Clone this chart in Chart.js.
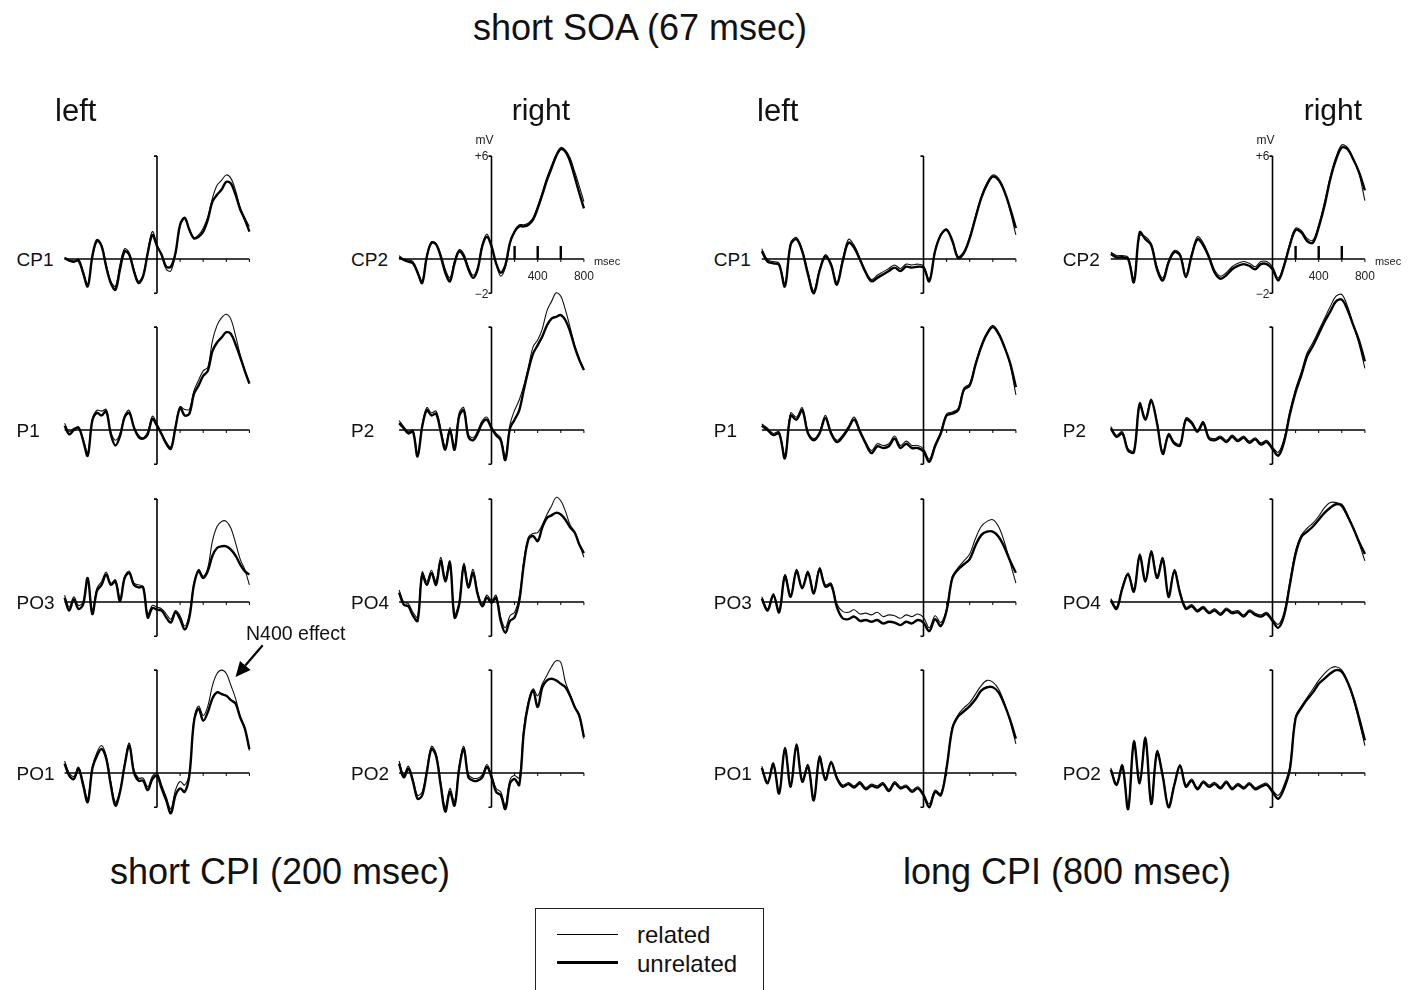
<!DOCTYPE html>
<html>
<head>
<meta charset="utf-8">
<title>short SOA (67 msec)</title>
<script src="https://cdn.jsdelivr.net/npm/chart.js@4.4.1/dist/chart.umd.min.js"></script>
<style>
  body { margin: 0; background: #fff; }
  #fig { position: relative; width: 1417px; height: 990px; overflow: hidden; background: #fff;
         font-family: "Liberation Sans", Arial, sans-serif; color: #111; }
  #fig canvas { position: absolute; }
  .txt { position: absolute; white-space: nowrap; line-height: 1; }
  #legend { position: absolute; left: 535px; top: 908px; width: 227px; height: 110px; border: 1.5px solid #222; }
  .lgline { position: absolute; left: 21px; width: 61px; background: #000; }
</style>
</head>
<body>
<div id="fig">
  <div id="legend">
    <div class="lgline" style="top:25px; height:1.3px"></div>
    <div class="lgline" style="top:52px; height:3px"></div>
  </div>
</div>
<script>
// time base (msec) for short CPI and long CPI epochs
const tShort = [-800,-760,-720,-680,-640,-600,-560,-520,-480,-440,-400,-360,-320,-280,-240,-200,-160,-120,-80,-40,
  0,40,80,120,160,200,240,280,320,360,400,440,480,520,560,600,640,680,720,760,800];
const tLong = [-1400,-1350,-1300,-1250,-1200,-1150,-1100,-1050,-1000,-950,-900,-850,-800,-750,-700,-650,-600,-550,-500,-450,
  -400,-350,-300,-250,-200,-150,-100,-50,0,50,100,150,200,250,300,350,400,450,500,550,600,650,700,750,800];

// axis ticks / labels
const timeTicks = [200, 400, 600, 800];
const scaleTicks = [200, 400, 600];
const timeTickLabels = [[400, '400'], [800, '800']];
const voltTickLabels = [[6, '+6'], [-2, '\u22122']];

// short CPI (200 msec), microvolts
const shortCP1Rel   = [0.1,-0.05,-0.2,0,-0.7,-1.5,0.1,1.0,0.8,-0.3,-1.3,-1.6,-0.3,0.6,0.35,-0.6,-1.3,-0.9,0.45,1.6,0.85,0.2,-0.6,-0.7,0.3,1.9,2.35,1.75,1.25,1.4,1.8,2.45,3.55,4.3,4.6,4.9,4.7,4.0,3.0,2.4,1.9];
const shortCP1Unrel = [0.05,-0.1,-0.15,-0.1,-0.8,-1.6,0.15,1.1,0.75,-0.45,-1.4,-1.8,-0.6,0.45,0.25,-0.7,-1.4,-1.0,0.35,1.4,0.75,0.25,-0.45,-0.45,0.35,2.0,2.4,1.7,1.2,1.3,1.6,2.3,3.35,3.75,4.05,4.5,4.4,3.75,2.9,2.3,1.6];
const shortP1Rel    = [0.4,-0.1,0.1,0.1,-0.5,-1.35,0.6,1.15,1.1,1.2,-0.1,-0.6,-0.2,0.85,1.15,0.2,-0.3,-0.45,-0.1,0.8,0.35,-0.2,-0.7,-1.0,0.25,1.35,1.2,1.2,2.3,2.9,3.45,3.65,5.2,6.1,6.55,6.75,6.45,5.5,4.4,3.5,2.75];
const shortP1Unrel  = [0.25,-0.25,0,0.15,-0.6,-1.5,0.55,1.0,0.85,1.1,-0.25,-0.9,-0.35,0.75,1.0,0.15,-0.4,-0.5,-0.25,0.65,0.25,-0.25,-0.8,-1.1,0.15,1.3,0.85,0.95,2.1,2.6,3.15,3.45,4.6,5.1,5.4,5.7,5.6,5.0,4.25,3.45,2.7];
const shortPO3Rel   = [0.4,-0.3,0.3,-0.2,0,1.3,-0.5,0.8,1.2,1.75,1.1,1.3,0.2,1.5,1.8,1.1,1.0,0.9,-0.7,-0.2,-0.3,-0.4,-0.7,-1.0,-0.5,-0.8,-1.4,-0.7,1.1,1.9,1.5,2.0,3.55,4.4,4.7,4.7,4.3,3.45,2.5,1.9,1.0];
const shortPO3Unrel = [0.25,-0.5,0.15,-0.4,-0.15,1.4,-0.7,0.65,1.0,1.6,1.0,1.2,0.05,1.4,1.7,1.0,0.85,0.85,-0.9,-0.35,-0.45,-0.5,-0.9,-1.2,-0.6,-1.0,-1.6,-0.9,1.0,1.8,1.4,1.8,2.7,3.15,3.25,3.25,3.05,2.7,2.2,1.8,1.6];
const shortPO1Rel   = [0.7,0,-0.2,0.35,-0.5,-1.5,0.35,1.2,1.6,1.0,-0.5,-1.7,-1.0,0.55,1.75,0.2,-0.3,-0.3,-0.8,-0.2,0,-0.7,-1.4,-2.1,-1.0,-0.5,-0.7,0,3.1,3.9,3.35,3.9,5.1,5.8,6.0,5.8,5.1,4.35,3.3,2.6,1.3];
const shortPO1Unrel = [0.55,-0.15,-0.35,0.25,-0.7,-1.7,0.25,1.0,1.4,0.85,-0.7,-1.9,-1.1,0.45,1.6,0.05,-0.45,-0.45,-1.0,-0.35,-0.15,-0.9,-1.6,-2.35,-1.3,-0.9,-1.1,-0.15,3.0,3.75,3.05,3.55,4.35,4.7,4.6,4.5,4.25,4.05,3.25,2.6,1.4];
const shortCP2Rel   = [0.2,0,-0.05,-0.15,-0.7,-1.3,0.2,1.0,0.9,0.3,-0.6,-1.1,-0.1,0.55,0.3,-0.45,-0.95,-0.5,0.85,1.45,0.8,-0.3,-1.0,-0.5,0.9,1.65,2.0,2.0,2.1,2.4,3.1,3.9,4.75,5.45,6.1,6.5,6.35,5.9,5.1,4.25,3.35];
const shortCP2Unrel = [0.1,-0.05,-0.15,-0.25,-0.8,-1.4,0.15,0.95,0.85,0.15,-0.8,-1.3,-0.25,0.45,0.15,-0.6,-1.1,-0.6,0.75,1.3,0.75,-0.25,-0.8,-0.35,0.95,1.6,1.9,1.9,2.0,2.3,2.95,3.75,4.6,5.3,6.0,6.4,6.25,5.7,4.8,3.85,2.95];
const shortP2Rel    = [0.55,0.2,-0.1,0,-1.4,0.3,1.3,1.0,1.1,0.1,-0.95,0.15,-0.95,1.0,1.3,-0.25,-0.45,-0.05,0.55,0.75,0.2,-0.2,-0.45,-1.55,0.3,1.15,1.75,2.6,3.7,4.85,5.25,5.9,6.95,7.5,8.0,7.8,7.0,6.0,4.95,4.15,3.5];
const shortP2Unrel  = [0.4,0.1,-0.2,-0.1,-1.55,0.2,1.15,0.85,0.95,-0.1,-1.15,0,-1.15,0.8,1.15,-0.4,-0.6,-0.2,0.4,0.6,0.1,-0.3,-0.6,-1.75,0.1,0.6,1.15,2.35,3.5,4.45,4.95,5.45,6.1,6.5,6.6,6.7,6.4,5.75,4.85,4.1,3.5];
const shortPO4Rel   = [0.7,0,-0.1,-0.6,-0.9,1.75,1.2,1.85,1.2,2.6,1.4,2.4,-0.7,0,2.25,1.0,1.9,0.6,-0.1,0.4,0.1,0.4,-0.9,-1.5,-0.8,-0.6,0.3,2.4,3.8,4.0,4.05,4.5,5.1,5.6,6.1,5.9,5.3,4.5,4.1,3.4,2.6];
const shortPO4Unrel = [0.55,-0.15,-0.25,-0.8,-1.1,1.6,1.0,1.7,1.0,2.4,1.2,2.3,-0.9,-0.15,2.1,0.85,1.7,0.45,-0.25,0.25,-0.05,0.25,-1.1,-1.8,-1.1,-0.9,0.05,2.2,3.65,3.85,3.55,4.35,4.9,5.05,5.2,5.1,4.8,4.35,4.05,3.35,2.85];
const shortPO2Rel   = [0.7,-0.1,0.4,-0.35,-1.3,-1.1,0.2,1.55,1.15,-0.5,-2.0,-0.9,-1.7,0.4,1.55,-0.1,-0.3,-0.3,-0.1,0.5,-0.1,-0.9,-1.1,-1.9,-0.4,-0.15,-0.3,2.6,4.2,4.9,4.5,5.2,5.7,6.2,6.55,6.45,5.3,4.6,3.9,3.3,2.0];
const shortPO2Unrel = [0.55,-0.25,0.25,-0.5,-1.5,-1.3,0.05,1.4,1.0,-0.7,-2.25,-1.1,-1.9,0.25,1.4,-0.25,-0.45,-0.45,-0.25,0.35,-0.25,-1.1,-1.3,-2.1,-0.6,-0.35,-0.7,2.4,4.05,4.8,3.85,5.0,5.4,5.5,5.4,5.2,5.0,4.5,3.85,3.35,2.1];

// long CPI (800 msec), microvolts
const longCP1Rel   = [0.6,-0.05,-0.15,-0.25,-1.5,0.95,1.25,0.55,-0.75,-1.85,-0.6,0.25,-0.25,-1.35,0,1.15,0.8,0.05,-0.7,-1.2,-0.95,-0.75,-0.55,-0.35,-0.55,-0.3,-0.35,-0.3,-0.4,-1.2,0.5,1.45,1.75,1.1,0.15,0.45,1.3,2.5,3.65,4.45,4.9,4.7,4.0,2.8,1.4];
const longCP1Unrel = [0.45,-0.15,-0.25,-0.35,-1.6,0.85,1.15,0.45,-0.9,-2.0,-0.7,0.15,-0.35,-1.5,-0.15,0.95,0.65,-0.05,-0.8,-1.3,-1.1,-0.9,-0.7,-0.5,-0.7,-0.45,-0.5,-0.45,-0.5,-1.3,0.45,1.4,1.7,1.05,0.05,0.35,1.2,2.4,3.55,4.35,4.8,4.6,3.95,2.95,1.8];
const longP1Rel    = [0.35,0.1,-0.2,-0.1,-1.5,1.0,0.75,1.3,-0.1,-0.5,-0.1,0.85,-0.1,-0.6,-0.3,0.2,0.75,0,-0.7,-1.2,-0.8,-0.9,-0.8,-0.35,-0.9,-0.65,-0.9,-0.9,-1.1,-1.7,-0.85,-0.1,0.95,1.05,1.25,2.45,2.7,3.9,4.95,5.7,6.1,5.7,4.9,3.8,2.05];
const longP1Unrel  = [0.25,0,-0.3,-0.2,-1.65,0.85,0.6,1.15,-0.2,-0.6,-0.2,0.7,-0.2,-0.7,-0.4,0.1,0.6,-0.1,-0.8,-1.35,-0.95,-1.05,-0.95,-0.5,-1.05,-0.8,-1.05,-1.05,-1.25,-1.85,-0.95,-0.2,0.85,0.95,1.15,2.35,2.6,3.8,4.85,5.6,6.0,5.6,4.85,3.9,2.5];
const longPO3Rel   = [0.3,-0.4,0.5,-0.5,1.6,0.4,1.9,0.9,1.8,0.6,2.0,1.0,1.1,-0.1,-0.55,-0.6,-0.45,-0.7,-0.65,-0.75,-0.6,-0.85,-0.75,-0.8,-0.95,-0.75,-0.85,-0.7,-0.9,-1.5,-0.8,-1.2,-0.4,1.5,2.0,2.4,2.8,3.7,4.4,4.7,4.8,4.4,3.5,2.3,1.1];
const longPO3Unrel = [0.2,-0.5,0.4,-0.6,1.5,0.3,1.8,0.8,1.7,0.5,1.9,0.9,1.0,-0.3,-0.95,-1.0,-0.85,-1.1,-1.05,-1.15,-1.05,-1.25,-1.15,-1.2,-1.35,-1.15,-1.25,-1.05,-1.2,-1.7,-1.0,-1.4,-0.5,1.4,1.9,2.2,2.5,3.3,3.9,4.1,4.1,3.8,3.2,2.4,1.7];
const longPO1Rel   = [0.4,-0.5,0.6,-1.1,1.5,-0.7,1.7,-0.4,0.5,-1.5,1.0,-0.3,0.7,-0.2,-0.7,-0.55,-0.75,-0.5,-0.85,-0.65,-0.75,-0.55,-0.95,-0.5,-0.8,-0.7,-1.0,-0.8,-1.2,-1.8,-1.0,-1.2,0.4,2.7,3.4,3.8,4.1,4.6,5.1,5.4,5.3,4.9,4.1,3.0,1.7];
const longPO1Unrel = [0.3,-0.6,0.5,-1.2,1.4,-0.8,1.6,-0.5,0.4,-1.6,0.9,-0.4,0.6,-0.3,-0.8,-0.65,-0.85,-0.6,-0.95,-0.75,-0.85,-0.65,-1.05,-0.6,-0.9,-0.8,-1.1,-0.9,-1.3,-2.0,-1.1,-1.3,0.3,2.6,3.3,3.6,3.9,4.3,4.8,5.0,5.0,4.7,4.0,3.1,2.0];
const longCP2Rel   = [0.4,0.2,0.2,0.1,-1.2,1.35,1.3,0.9,-0.45,-1.1,-0.1,0.5,0.3,-0.9,0.3,1.3,0.95,0.2,-0.65,-1.0,-0.8,-0.45,-0.25,-0.15,-0.25,-0.45,-0.15,-0.15,-0.45,-1.1,-0.3,0.9,1.8,1.65,1.2,1.1,2.0,3.3,4.8,5.95,6.65,6.5,5.85,4.95,3.4];
const longCP2Unrel = [0.3,0.1,0.1,0,-1.35,1.55,1.15,0.8,-0.6,-1.25,-0.2,0.4,0.2,-1.05,0.2,1.15,0.8,0.1,-0.8,-1.15,-0.95,-0.6,-0.4,-0.3,-0.4,-0.6,-0.3,-0.3,-0.6,-1.25,-0.4,0.8,1.7,1.55,1.05,0.95,1.85,3.1,4.65,5.8,6.5,6.4,5.8,5.05,4.0];
const longP2Rel    = [0.2,-0.3,-0.1,-1.1,-1.2,1.6,0.7,1.8,0.5,-1.3,-0.2,-0.7,-0.8,0.7,0.5,0,0.5,-0.4,-0.5,-0.35,-0.6,-0.3,-0.55,-0.35,-0.65,-0.45,-0.75,-0.6,-1.0,-1.3,-0.5,1.1,2.4,3.4,4.5,5.1,5.8,6.5,7.2,7.8,7.9,7.2,6.1,5.0,3.6];
const longP2Unrel  = [0.1,-0.4,-0.2,-1.2,-1.3,1.5,0.6,1.7,0.4,-1.4,-0.3,-0.8,-0.9,0.6,0.4,-0.1,0.4,-0.5,-0.6,-0.45,-0.7,-0.4,-0.65,-0.45,-0.75,-0.55,-0.85,-0.7,-1.1,-1.5,-0.7,0.9,2.2,3.2,4.3,4.9,5.6,6.3,6.9,7.5,7.6,7.0,6.1,5.2,4.0];
const longPO4Rel   = [0.2,-0.3,0.9,1.7,0.7,2.8,1.3,3.0,1.5,2.6,0.4,1.9,0.6,-0.3,-0.15,-0.45,-0.25,-0.55,-0.4,-0.65,-0.35,-0.55,-0.5,-0.75,-0.45,-0.65,-0.75,-0.6,-1.0,-1.3,-0.6,1.2,3.0,3.9,4.3,4.6,5.0,5.5,5.8,5.8,5.7,5.1,4.3,3.4,2.4];
const longPO4Unrel = [0.1,-0.4,0.8,1.6,0.6,2.7,1.2,2.9,1.4,2.5,0.3,1.8,0.5,-0.4,-0.25,-0.55,-0.35,-0.65,-0.5,-0.75,-0.45,-0.65,-0.6,-0.85,-0.55,-0.75,-0.85,-0.7,-1.1,-1.5,-0.8,1.0,2.8,3.8,4.1,4.4,4.8,5.2,5.5,5.7,5.6,5.0,4.3,3.5,2.8];
const longPO2Rel   = [0.3,-0.6,0.5,-2.0,1.9,-0.5,2.1,-1.7,1.3,-0.1,-1.9,-0.6,0.5,-0.7,-0.35,-0.85,-0.45,-0.7,-0.55,-0.8,-0.45,-0.85,-0.6,-0.8,-0.55,-0.85,-0.7,-0.6,-1.0,-1.3,-0.7,0.4,3.3,3.9,4.4,4.9,5.4,5.8,6.1,6.2,6.0,5.3,4.3,3.0,1.6];
const longPO2Unrel = [0.2,-0.7,0.4,-2.1,1.8,-0.6,2.0,-1.8,1.2,-0.2,-2.0,-0.7,0.4,-0.8,-0.45,-0.95,-0.55,-0.8,-0.65,-0.9,-0.55,-0.95,-0.7,-0.9,-0.65,-0.95,-0.8,-0.7,-1.1,-1.5,-0.9,0.2,3.2,3.8,4.3,4.7,5.2,5.5,5.8,6.0,5.9,5.3,4.4,3.2,1.9];

// panel grid: col = 0..3 (short left, short right, long left, long right), row = 0..3
const panels = [
  { col: 0, row: 0, name: 'CP1', t: tShort, rel: shortCP1Rel, unrel: shortCP1Unrel },
  { col: 0, row: 1, name: 'P1',  t: tShort, rel: shortP1Rel,  unrel: shortP1Unrel },
  { col: 0, row: 2, name: 'PO3', t: tShort, rel: shortPO3Rel, unrel: shortPO3Unrel },
  { col: 0, row: 3, name: 'PO1', t: tShort, rel: shortPO1Rel, unrel: shortPO1Unrel, arrow: true },
  { col: 1, row: 0, name: 'CP2', t: tShort, rel: shortCP2Rel, unrel: shortCP2Unrel, scale: true },
  { col: 1, row: 1, name: 'P2',  t: tShort, rel: shortP2Rel,  unrel: shortP2Unrel },
  { col: 1, row: 2, name: 'PO4', t: tShort, rel: shortPO4Rel, unrel: shortPO4Unrel },
  { col: 1, row: 3, name: 'PO2', t: tShort, rel: shortPO2Rel, unrel: shortPO2Unrel },
  { col: 2, row: 0, name: 'CP1', t: tLong, rel: longCP1Rel, unrel: longCP1Unrel },
  { col: 2, row: 1, name: 'P1',  t: tLong, rel: longP1Rel,  unrel: longP1Unrel },
  { col: 2, row: 2, name: 'PO3', t: tLong, rel: longPO3Rel, unrel: longPO3Unrel },
  { col: 2, row: 3, name: 'PO1', t: tLong, rel: longPO1Rel, unrel: longPO1Unrel },
  { col: 3, row: 0, name: 'CP2', t: tLong, rel: longCP2Rel, unrel: longCP2Unrel, scale: true },
  { col: 3, row: 1, name: 'P2',  t: tLong, rel: longP2Rel,  unrel: longP2Unrel },
  { col: 3, row: 2, name: 'PO4', t: tLong, rel: longPO4Rel, unrel: longPO4Unrel },
  { col: 3, row: 3, name: 'PO2', t: tLong, rel: longPO2Rel, unrel: longPO2Unrel }
];

const PX_MS = 23.1 / 200;   // px per msec
const PX_UV = 17.15;        // px per microvolt
const colZero = [157, 491.5, 923.5, 1272.5];
const rowBase = [259, 430, 602, 773];

const fig = document.getElementById('fig');

function addText(str, x, y, size, align) {
  const d = document.createElement('div');
  d.className = 'txt';
  d.textContent = str;
  d.style.fontSize = size + 'px';
  d.style.left = x + 'px';
  d.style.top = y + 'px';
  const tx = align === 'center' ? '-50%' : (align === 'right' ? '-100%' : '0');
  d.style.transform = 'translate(' + tx + ', -50%)';
  fig.appendChild(d);
}

// axes drawn by hand: baseline, stimulus-onset line, and the calibration marks
function makeAxes(p) {
  return {
    id: 'erpAxes',
    beforeDatasetsDraw(chart) {
      const ctx = chart.ctx;
      const x = chart.scales.x, y = chart.scales.y;
      const x0 = x.getPixelForValue(0), y0 = y.getPixelForValue(0);
      const yt = y.getPixelForValue(6), yb = y.getPixelForValue(-2);
      ctx.save();
      ctx.strokeStyle = '#000';
      ctx.lineWidth = 1.6;
      ctx.beginPath();
      ctx.moveTo(x.getPixelForValue(p.t[0]), y0);
      ctx.lineTo(x.getPixelForValue(800), y0);
      ctx.moveTo(x0, yt);
      ctx.lineTo(x0, yb);
      ctx.moveTo(x0 - 3, yt); ctx.lineTo(x0, yt);
      ctx.moveTo(x0 - 3, yb); ctx.lineTo(x0, yb);
      ctx.stroke();

      ctx.lineWidth = 1;
      ctx.beginPath();
      timeTicks.forEach(t => {
        const xt = x.getPixelForValue(t);
        ctx.moveTo(xt, y0);
        ctx.lineTo(xt, y0 + 3);
      });
      ctx.stroke();

      if (p.scale) {
        ctx.lineWidth = 2.4;
        ctx.beginPath();
        scaleTicks.forEach(t => {
          const xt = x.getPixelForValue(t);
          ctx.moveTo(xt, y0);
          ctx.lineTo(xt, y0 - 13);
        });
        ctx.stroke();
        ctx.fillStyle = '#222';
        ctx.font = '12px "Liberation Sans", Arial, sans-serif';
        ctx.textBaseline = 'middle';
        ctx.textAlign = 'center';
        timeTickLabels.forEach(([t, s]) => ctx.fillText(s, x.getPixelForValue(t), y0 + 18));
        ctx.textAlign = 'left';
        ctx.font = '11px "Liberation Sans", Arial, sans-serif';
        ctx.fillText('msec', x.getPixelForValue(800) + 10, y0 + 3);
        ctx.textAlign = 'right';
        ctx.font = '12px "Liberation Sans", Arial, sans-serif';
        voltTickLabels.forEach(([v, s]) => ctx.fillText(s, x0 - 3, y.getPixelForValue(v) + 1));
        ctx.font = '12px "Liberation Sans", Arial, sans-serif';
        ctx.fillText('mV', x0 + 2, yt - 15);
      }
      ctx.restore();
    },
    afterDatasetsDraw(chart) {
      if (!p.arrow) return;
      // arrow marking the N400 effect
      const ctx = chart.ctx;
      const x = chart.scales.x, y = chart.scales.y;
      const tx = x.getPixelForValue(680), ty = y.getPixelForValue(5.6);
      const sx = x.getPixelForValue(915), sy = y.getPixelForValue(7.45);
      const ang = Math.atan2(ty - sy, tx - sx);
      const hl = 15, hw = 7;
      const bx = tx - hl * Math.cos(ang), by = ty - hl * Math.sin(ang);
      ctx.save();
      ctx.strokeStyle = '#000';
      ctx.fillStyle = '#000';
      ctx.lineWidth = 2.2;
      ctx.beginPath();
      ctx.moveTo(sx, sy);
      ctx.lineTo(bx, by);
      ctx.stroke();
      ctx.beginPath();
      ctx.moveTo(tx, ty);
      ctx.lineTo(bx + hw * Math.sin(ang), by - hw * Math.cos(ang));
      ctx.lineTo(bx - hw * Math.sin(ang), by + hw * Math.cos(ang));
      ctx.closePath();
      ctx.fill();
      ctx.restore();
    }
  };
}

panels.forEach(p => {
  const zx = colZero[p.col], base = rowBase[p.row];
  const left = Math.round(zx + (p.t[0] - 60) * PX_MS);
  const right = Math.round(zx + 1250 * PX_MS);
  const top = Math.round(base - 9 * PX_UV);
  const bottom = Math.round(base + 3.6 * PX_UV);
  const cv = document.createElement('canvas');
  cv.width = right - left;
  cv.height = bottom - top;
  cv.style.left = left + 'px';
  cv.style.top = top + 'px';
  fig.appendChild(cv);

  new Chart(cv, {
    type: 'line',
    data: {
      datasets: [
        { label: 'unrelated', data: p.t.map((t, i) => ({ x: t, y: p.unrel[i] })),
          borderColor: '#000', borderWidth: 2.4, clip: false },
        { label: 'related', data: p.t.map((t, i) => ({ x: t, y: p.rel[i] })),
          borderColor: '#111', borderWidth: 1.1, clip: false }
      ]
    },
    options: {
      responsive: false,
      animation: false,
      devicePixelRatio: 1,
      events: [],
      layout: { padding: 0 },
      elements: { point: { radius: 0 }, line: { tension: 0.35 } },
      scales: {
        x: { type: 'linear', display: false, min: (left - zx) / PX_MS, max: (right - zx) / PX_MS },
        y: { type: 'linear', display: false, min: -(bottom - base) / PX_UV, max: (base - top) / PX_UV }
      },
      plugins: { legend: { display: false }, tooltip: { enabled: false } }
    },
    plugins: [makeAxes(p)]
  });

  // electrode label, left of the trace
  addText(p.name, zx + p.t[0] * PX_MS - 48, base, 19, 'left');
});

// titles
addText('short SOA (67 msec)', 640, 28, 36, 'center');
addText('left', 55, 110, 31, 'left');
addText('right', 570, 110, 30, 'right');
addText('left', 757, 110, 31, 'left');
addText('right', 1362, 110, 30, 'right');
addText('short CPI (200 msec)', 280, 872, 36, 'center');
addText('long CPI (800 msec)', 1067, 872, 36, 'center');
addText('N400 effect', 246, 634, 19.5, 'left');

// legend
addText('related', 637, 935, 24, 'left');
addText('unrelated', 637, 964, 24, 'left');
</script>
</body>
</html>
